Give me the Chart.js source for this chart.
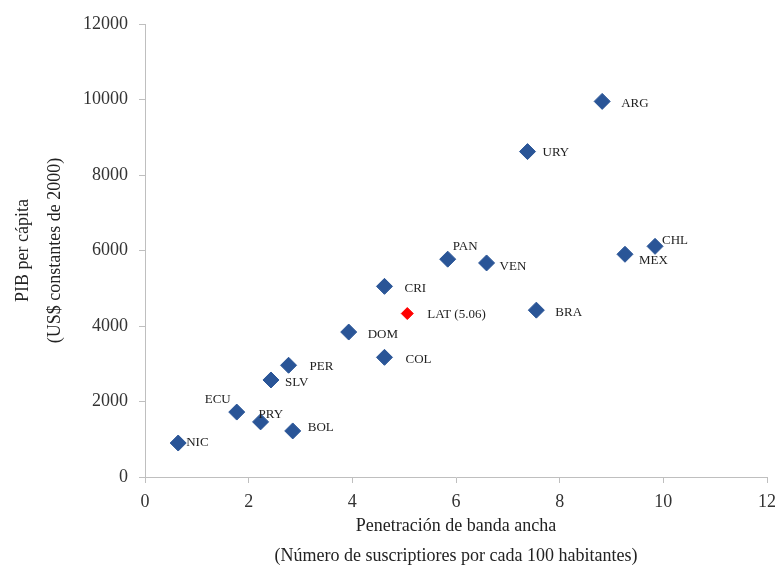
<!DOCTYPE html>
<html>
<head>
<meta charset="utf-8">
<script src="https://cdn.jsdelivr.net/npm/chart.js@4/dist/chart.umd.min.js"></script>
<style>
    html, body { margin: 0; padding: 0; background: #fff; }
    #wrap { width: 784px; height: 571px; }
</style>
</head>
<body>
<div id="wrap"><canvas id="scatterChart"></canvas></div>
<script>
// Country data: broadband penetration vs GDP per capita
const countries = ['ARG', 'URY', 'PAN', 'VEN', 'CHL', 'MEX', 'CRI', 'BRA', 'DOM', 'COL', 'PER', 'SLV', 'ECU', 'PRY', 'BOL', 'NIC'];
const penetration = [8.82, 7.38, 5.84, 6.59, 9.84, 9.26, 4.62, 7.55, 3.93, 4.62, 2.77, 2.43, 1.77, 2.23, 2.85, 0.64];
const gdpPerCapita = [9950, 8620, 5770, 5670, 6110, 5900, 5050, 4420, 3840, 3170, 2960, 2570, 1720, 1460, 1220, 900];

// Regional average
const latLabel = ['LAT (5.06)'];
const latPenetration = [5.06];
const latGdp = [4330];

const xTicks = [0, 2, 4, 6, 8, 10, 12];
const yTicks = [0, 2000, 4000, 6000, 8000, 10000, 12000];

// where each label sits relative to its marker
const labelOffsets = {
    'ARG': [19, 2], 'URY': [15, 1], 'PAN': [5, -13], 'VEN': [13, 4],
    'CHL': [7, -6], 'MEX': [14, 6], 'CRI': [20, 2], 'BRA': [19, 2],
    'DOM': [19, 3], 'COL': [21, 2], 'PER': [21, 1], 'SLV': [14, 3],
    'ECU': [-32, -12], 'PRY': [-2, -7], 'BOL': [15, -3], 'NIC': [8, 0],
    'LAT (5.06)': [20, 1]
};

const serif = '"Liberation Serif", "Times New Roman", serif';

const pointLabels = {
    id: 'pointLabels',
    afterDatasetsDraw(chart) {
        const ctx = chart.ctx;
        ctx.save();
        ctx.font = '13px ' + serif;
        ctx.fillStyle = '#222';
        ctx.textBaseline = 'middle';
        ctx.textAlign = 'left';
        chart.data.datasets.forEach((ds, di) => {
            const meta = chart.getDatasetMeta(di);
            meta.data.forEach((pt, i) => {
                const name = ds.names[i];
                const off = labelOffsets[name] || [10, 0];
                ctx.fillText(name, pt.x + off[0], pt.y + off[1]);
            });
        });
        ctx.restore();
    }
};

const ctx = document.getElementById('scatterChart').getContext('2d');
new Chart(ctx, {
    type: 'scatter',
    data: {
        datasets: [
            {
                names: countries,
                data: penetration.map((x, i) => ({ x: x, y: gdpPerCapita[i] })),
                pointStyle: 'rectRot',
                pointRadius: 8,
                backgroundColor: '#2A5597',
                borderColor: '#2A5597',
                borderWidth: 1
            },
            {
                names: latLabel,
                data: latPenetration.map((x, i) => ({ x: x, y: latGdp[i] })),
                pointStyle: 'rectRot',
                pointRadius: 6,
                backgroundColor: '#FF0000',
                borderColor: '#FF0000',
                borderWidth: 1
            }
        ]
    },
    options: {
        responsive: true,
        maintainAspectRatio: false,
        animation: false,
        layout: { padding: { top: 24, right: 16, left: 0, bottom: 0 } },
        plugins: {
            legend: { display: false },
            tooltip: { enabled: false }
        },
        scales: {
            x: {
                type: 'linear',
                min: 0,
                max: 12,
                afterBuildTicks: axis => { axis.ticks = xTicks.map(v => ({ value: v })); },
                afterFit: axis => { axis.height = 94; },
                grid: { drawOnChartArea: false, drawTicks: true, tickLength: 6, color: '#bfbfbf' },
                border: { color: '#bfbfbf' },
                ticks: { color: '#333', font: { family: serif, size: 18 }, padding: 8 },
                title: {
                    display: true,
                    text: ['Penetración de banda ancha', '(Número de suscriptiores por cada 100 habitantes)'],
                    color: '#222',
                    font: { family: serif, size: 18, lineHeight: 1.65 },
                    padding: { top: 3, bottom: 0 }
                }
            },
            y: {
                type: 'linear',
                min: 0,
                max: 12000,
                afterBuildTicks: axis => { axis.ticks = yTicks.map(v => ({ value: v })); },
                afterFit: axis => { axis.width = 145; },
                grid: { drawOnChartArea: false, drawTicks: true, tickLength: 6, color: '#bfbfbf' },
                border: { color: '#bfbfbf' },
                ticks: {
                    color: '#333',
                    font: { family: serif, size: 18 },
                    padding: 11,
                    callback: value => String(value)
                },
                title: {
                    display: true,
                    text: ['PIB per cápita', '(US$ constantes de 2000)'],
                    color: '#222',
                    font: { family: serif, size: 18, lineHeight: 1.8 },
                    padding: { top: 7, bottom: 0 }
                }
            }
        }
    },
    plugins: [pointLabels]
});
</script>
</body>
</html>
